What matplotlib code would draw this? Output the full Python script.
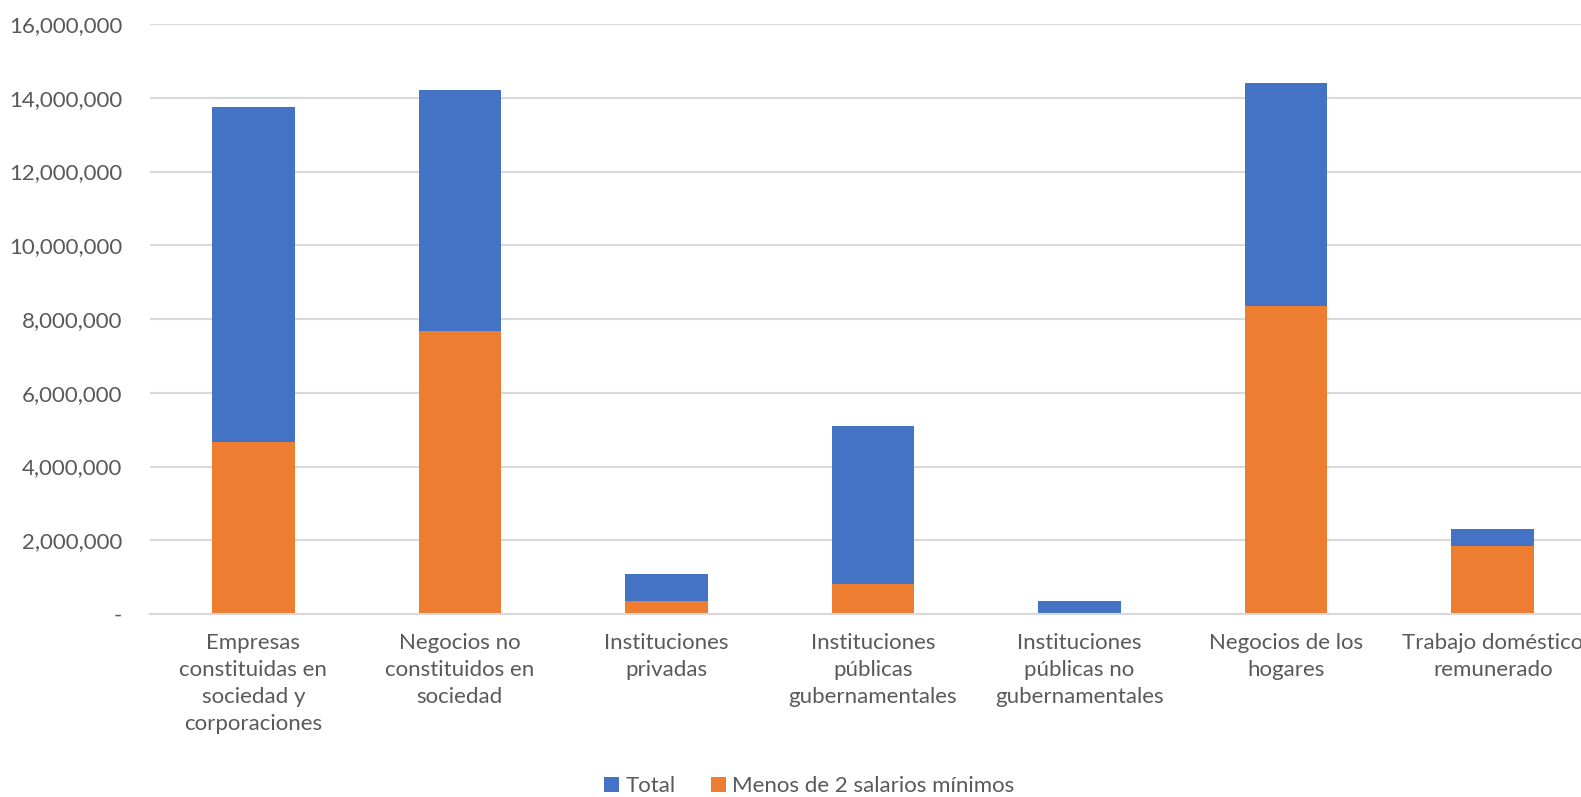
import numpy as np
import matplotlib
matplotlib.use("Agg")
import matplotlib.pyplot as plt
from matplotlib.ticker import FuncFormatter

# data
categories = [
    "Empresas\nconstituidas en\nsociedad y\ncorporaciones",
    "Negocios no\nconstituidos en\nsociedad",
    "Instituciones\nprivadas",
    "Instituciones\npúblicas\ngubernamentales",
    "Instituciones\npúblicas no\ngubernamentales",
    "Negocios de los\nhogares",
    "Trabajo doméstico\nremunerado",
]
total = [13760000, 14200000, 1080000, 5090000, 340000, 14410000, 2300000]
menos_2_sm = [4670000, 7670000, 340000, 820000, 30000, 8350000, 1840000]

blue = "#4472c4"
orange = "#ed7d31"
grey_text = "#595959"
grid_col = "#d9d9d9"

plt.rcParams['font.family'] = ['Lato', 'DejaVu Sans']

fig = plt.figure(figsize=(15.81, 7.97), dpi=100)
ax = fig.add_axes([150 / 1581, 183 / 797, 1446 / 1581, 590 / 797])

x = np.arange(len(categories))
ax.bar(x, total, width=0.40, color=blue, label="Total", zorder=2)
ax.bar(x, menos_2_sm, width=0.40, color=orange, label="Menos de 2 salarios mínimos", zorder=3)

ax.set_xlim(-0.5, len(categories) - 0.5)
ax.set_ylim(0, 16000000)
ax.set_yticks(np.arange(0, 16000001, 2000000))
ax.yaxis.set_major_formatter(FuncFormatter(lambda v, p: "-" if v == 0 else f"{int(v):,}"))
ax.set_xticks(x)
ax.set_xticklabels(categories, linespacing=1.42)

ax.grid(axis="y", color=grid_col, linewidth=1.5, zorder=0)
ax.set_axisbelow(True)
for s in ["top", "right", "left"]:
    ax.spines[s].set_visible(False)
ax.spines["bottom"].set_color(grid_col)
ax.spines["bottom"].set_linewidth(1.5)
ax.spines["bottom"].set_zorder(4)

ax.tick_params(axis="y", length=0, pad=20, labelsize=16, labelcolor=grey_text)
ax.tick_params(axis="x", length=0, pad=14, labelsize=16, labelcolor=grey_text)

fig.legend(loc="center", bbox_to_anchor=(0.512, 11 / 797), ncol=2,
           frameon=False, fontsize=16, labelcolor=grey_text,
           handlelength=0.65, handleheight=0.65, handletextpad=0.3, columnspacing=1.6)

fig.savefig("out.png", dpi=100)
